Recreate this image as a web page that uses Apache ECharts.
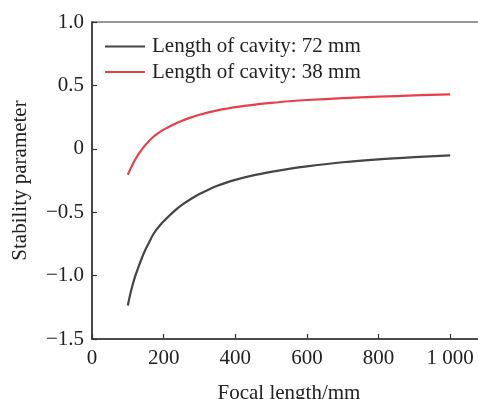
<!DOCTYPE html>
<html><head><meta charset="utf-8">
<script src="https://cdn.jsdelivr.net/npm/echarts@6/dist/echarts.min.js"></script>
<style>html,body{margin:0;padding:0;background:#fff}#c{width:478px;height:399px}</style>
</head><body><div id="c"></div>
<script>
const focal = [100,110,120,130,140,150,160,170,180,190,200,225,250,275,300,325,350,375,400,450,500,550,600,700,800,900,1000];
const cav72 = [-1.235,-1.11,-1.01,-0.93,-0.855,-0.79,-0.735,-0.68,-0.638,-0.603,-0.572,-0.503,-0.445,-0.398,-0.357,-0.322,-0.292,-0.267,-0.245,-0.21,-0.182,-0.158,-0.138,-0.106,-0.083,-0.066,-0.052];
const cav38 = [-0.205,-0.143,-0.089,-0.042,-0.002,0.033,0.064,0.091,0.114,0.134,0.151,0.188,0.22,0.246,0.268,0.287,0.303,0.316,0.328,0.347,0.362,0.375,0.385,0.399,0.411,0.421,0.43];
const seriesNames = ['Length of cavity: 72 mm','Length of cavity: 38 mm'];
const xLabels = {0:'0',200:'200',400:'400',600:'600',800:'800',1000:'1 000'};
const yLabels = {'1':'1.0','0.5':'0.5','0':'0','-0.5':'\u22120.5','-1':'\u22121.0','-1.5':'\u22121.5'};

const font = 'Liberation Serif';
const fs = 21;
const chart = echarts.init(document.getElementById('c'), null, {renderer:'canvas'});
chart.setOption({
  animation:false,
  backgroundColor:'#fff',
  grid:{left:92, top:22, width:394, bottom:60, show:true, borderColor:'#333', borderWidth:1.2,
        containLabel:false, outerBoundsMode:'none'},
  legend:{
    orient:'vertical', left:100, top:31, itemWidth:40, itemHeight:2, itemGap:4.5, icon:'rect',
    textStyle:{fontFamily:font, fontSize:fs, color:'#222', padding:[0,0,0,2]},
    data:seriesNames
  },
  xAxis:{
    type:'value', min:0, max:1100, interval:200,
    name:'Focal length/mm', nameLocation:'middle', nameGap:44,
    nameTextStyle:{fontFamily:font, fontSize:fs, color:'#222'},
    axisLine:{onZero:false, lineStyle:{color:'#333', width:1.5}},
    axisTick:{inside:true, length:5, lineStyle:{color:'#333', width:1.2}},
    axisLabel:{fontFamily:font, fontSize:fs, color:'#222', margin:9,
      formatter:v=>xLabels[v]!==undefined?xLabels[v]:''},
    splitLine:{show:false}
  },
  yAxis:{
    type:'value', min:-1.5, max:1.0, interval:0.5,
    name:'Stability parameter', nameLocation:'middle', nameGap:61,
    nameTextStyle:{fontFamily:font, fontSize:fs, color:'#222'},
    axisLine:{onZero:false, lineStyle:{color:'#333', width:1.5}},
    axisTick:{inside:true, length:5, lineStyle:{color:'#333', width:1.2}},
    axisLabel:{fontFamily:font, fontSize:fs, color:'#222', margin:8,
      formatter:v=>{const k=String(Math.round(v*10)/10);return yLabels[k]!==undefined?yLabels[k]:'';}},
    splitLine:{show:false}
  },
  series:[
    {name:seriesNames[0], type:'line', smooth:0.3, symbol:'none', color:'#454545',
     lineStyle:{width:2.2, color:'#454545'}, data:focal.map((f,i)=>[f,cav72[i]])},
    {name:seriesNames[1], type:'line', smooth:0.3, symbol:'none', color:'#e8404a',
     lineStyle:{width:2.2, color:'#e8404a'}, data:focal.map((f,i)=>[f,cav38[i]])}
  ]
});
</script></body></html>
